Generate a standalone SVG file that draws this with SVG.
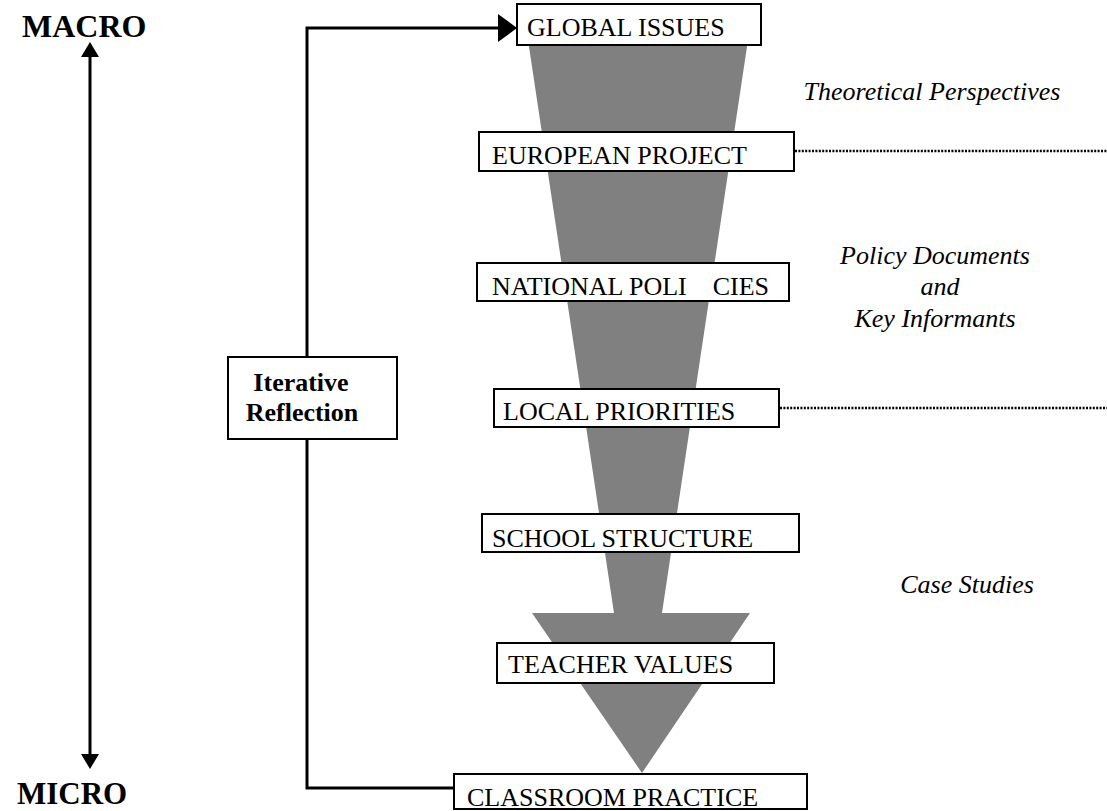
<svg xmlns="http://www.w3.org/2000/svg" width="1107" height="811" viewBox="0 0 1107 811">
<defs>
<style>
.box{fill:#fff;stroke:#000;stroke-width:2}
.t{font-family:"Liberation Serif","Times New Roman",serif;font-size:26px;fill:#000}
.b{font-weight:bold}
.i{font-style:italic}
.ln{fill:none;stroke:#000;stroke-width:3}
.dot{fill:none;stroke:#000;stroke-width:2.5;stroke-dasharray:2 1.4}
</style>
</defs>
<rect width="1107" height="811" fill="#fff"/>

<g id="funnel">
<polygon points="525,20 751,20 662,613 750,613 642,773 532,613 614,613" fill="#808080"/>
</g>

<g id="connectors">
<line class="ln" x1="90" y1="57" x2="90" y2="754"/>
<path d="M81,57 L90,42 L99,57 Z" fill="#000"/>
<path d="M81,754 L90,769 L99,754 Z" fill="#000"/>
<path class="ln" d="M453,788 L307,788 L307,28 L499,28"/>
<path d="M498,14 L517,28 L498,42 Z" fill="#000"/>
<line class="dot" x1="795" y1="151" x2="1107" y2="151"/>
<line class="dot" x1="780" y1="408" x2="1107" y2="408"/>
</g>

<g id="macro"><text class="t b" x="22" y="37" style="font-size:32px">MACRO</text></g>
<g id="micro"><text class="t b" x="17" y="804" style="font-size:31px">MICRO</text></g>

<g id="iterative">
<rect class="box" x="228" y="357" width="169" height="82"/>
<text class="t b" x="301" y="391" text-anchor="middle">Iterative</text>
<text class="t b" x="302" y="421" text-anchor="middle">Reflection</text>
</g>

<g id="global"><rect class="box" x="517" y="4" width="244" height="41"/><text class="t" x="527" y="36">GLOBAL ISSUES</text></g>
<g id="european"><rect class="box" x="479" y="132" width="315" height="39"/><text class="t" x="492" y="164">EUROPEAN PROJECT</text></g>
<g id="national"><rect class="box" x="477" y="263" width="312" height="38"/><text class="t" x="492" y="295" xml:space="preserve">NATIONAL POLI    CIES</text></g>
<g id="local"><rect class="box" x="494" y="389" width="285" height="38"/><text class="t" x="503" y="420">LOCAL PRIORITIES</text></g>
<g id="school"><rect class="box" x="482" y="514" width="317" height="38"/><text class="t" x="492" y="547">SCHOOL STRUCTURE</text></g>
<g id="teacher"><rect class="box" x="497" y="643" width="277" height="40"/><text class="t" x="508" y="673">TEACHER VALUES</text></g>
<g id="classroom"><rect class="box" x="454" y="774" width="353" height="35"/><text class="t" x="467" y="806">CLASSROOM PRACTICE</text></g>

<g id="labels">
<text class="t i" x="932" y="100" text-anchor="middle">Theoretical Perspectives</text>
<text class="t i" x="935" y="264" text-anchor="middle">Policy Documents</text>
<text class="t i" x="940" y="295" text-anchor="middle">and</text>
<text class="t i" x="935" y="327" text-anchor="middle">Key Informants</text>
<text class="t i" x="967" y="593" text-anchor="middle">Case Studies</text>
</g>
</svg>
